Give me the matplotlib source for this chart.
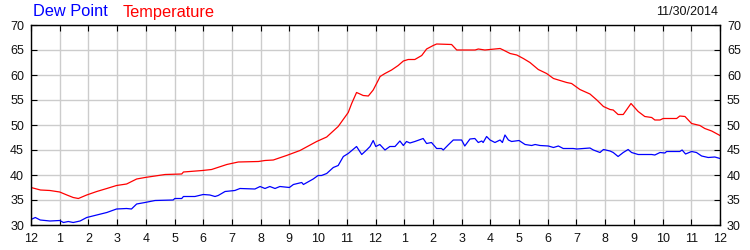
import matplotlib
matplotlib.use("Agg")
import matplotlib.pyplot as plt

# Hours since midnight and readings
temp_hours = [0.0, 0.33, 0.66, 1.0, 1.25, 1.47, 1.65, 1.94, 2.29, 2.64, 2.98, 3.33, 3.68, 3.97,
              4.32, 4.67, 5.25, 5.31, 5.97, 6.29, 6.82, 7.22, 7.92, 8.15,
              8.44, 8.90, 9.37, 9.95, 10.30, 10.70, 11.05, 11.17, 11.34, 11.42, 11.57, 11.75,
              11.92, 12.10, 12.16, 12.33, 12.56, 12.79, 12.97, 13.14, 13.37, 13.61, 13.78,
              14.01, 14.13, 14.65, 14.83, 15.47, 15.58, 15.81, 16.16, 16.34, 16.45, 16.69,
              16.92, 17.15, 17.38, 17.67, 17.96, 18.20, 18.66, 18.83, 19.12, 19.47, 19.71,
              19.94, 20.17, 20.28, 20.45, 20.63, 20.90, 21.15, 21.38, 21.62, 21.73, 21.91,
              22.02, 22.49, 22.60, 22.78, 23.01, 23.30, 23.47, 23.71, 24.0]
temperature = [37.5, 37.0, 36.9, 36.6, 36.0, 35.5, 35.3, 36.0, 36.7, 37.3, 37.9, 38.2, 39.2, 39.5,
               39.8, 40.1, 40.2, 40.6, 40.9, 41.1, 42.1, 42.6, 42.7, 42.9,
               43.0, 43.9, 44.9, 46.7, 47.6, 49.7, 52.5, 54.3, 56.5, 56.3, 55.9, 55.8,
               57.0, 59.0, 59.7, 60.3, 61.0, 61.9, 62.8, 63.1, 63.1, 63.9, 65.2,
               65.9, 66.2, 66.1, 65.0, 65.0, 65.2, 65.0, 65.2, 65.3, 65.0, 64.3,
               64.0, 63.3, 62.5, 61.1, 60.3, 59.3, 58.5, 58.3, 57.1, 56.2, 55.0,
               53.7, 53.1, 53.0, 52.1, 52.1, 54.3, 52.7, 51.7, 51.5, 51.0, 51.0,
               51.3, 51.3, 51.8, 51.7, 50.3, 49.9, 49.3, 48.8, 47.9]

dew_hours = [0.0, 0.15, 0.32, 0.66, 1.0, 1.13, 1.30, 1.47, 1.71, 1.94, 2.29, 2.64, 2.98, 3.33,
             3.50, 3.68, 3.97, 4.32, 4.95, 5.01, 5.25, 5.31, 5.71, 6.00, 6.23, 6.41, 6.52,
             6.76, 7.10, 7.28, 7.80, 7.98, 8.15, 8.32, 8.50, 8.67, 9.00, 9.14, 9.43, 9.49,
             9.83, 10.00, 10.12, 10.30, 10.53, 10.70, 10.88, 11.05, 11.34, 11.52, 11.69,
             11.81, 11.92, 12.01, 12.15, 12.33, 12.50, 12.68, 12.85, 12.97, 13.08, 13.20,
             13.37, 13.66, 13.78, 13.95, 14.13, 14.30, 14.36, 14.53, 14.71, 15.00, 15.11,
             15.29, 15.46, 15.58, 15.70, 15.75, 15.87, 15.99, 16.16, 16.34, 16.42, 16.51,
             16.63, 16.74, 17.00, 17.21, 17.44, 17.56, 17.73, 18.02, 18.20, 18.37, 18.54,
             18.89, 19.01, 19.47, 19.59, 19.82, 19.94, 20.17, 20.28, 20.45, 20.63, 20.80,
             20.92, 21.15, 21.62, 21.73, 21.91, 22.08, 22.14, 22.60, 22.68, 22.80, 23.01,
             23.18, 23.36, 23.59, 23.82, 24.0]
dew_point = [31.1, 31.5, 31.0, 30.8, 30.9, 30.5, 30.7, 30.5, 30.8, 31.5, 32.0, 32.5, 33.2, 33.3,
             33.2, 34.2, 34.5, 34.9, 35.0, 35.3, 35.3, 35.7, 35.7, 36.1, 36.0, 35.7, 35.9,
             36.7, 36.9, 37.3, 37.2, 37.7, 37.3, 37.7, 37.3, 37.7, 37.5, 38.1, 38.5, 38.1,
             39.2, 39.9, 39.9, 40.3, 41.5, 41.9, 43.7, 44.3, 45.7, 44.1, 45.0,
             45.7, 46.9, 45.7, 46.1, 45.0, 45.7, 45.7, 46.8, 45.9, 46.7, 46.4,
             46.7, 47.3, 46.3, 46.5, 45.3, 45.3, 45.0, 46.0, 47.0, 47.0, 45.8,
             47.2, 47.3, 46.5, 46.8, 46.5, 47.7, 47.0, 46.5, 47.0, 46.5, 48.0,
             47.0, 46.7, 46.9, 46.1, 45.9, 46.1, 45.9, 45.8, 45.5, 45.8, 45.3,
             45.3, 45.2, 45.4, 45.0, 44.5, 45.1, 44.8, 44.5, 43.7, 44.5, 45.1,
             44.5, 44.1, 44.1, 44.0, 44.5, 44.4, 44.7, 44.7, 45.0, 44.2, 44.7,
             44.5, 43.8, 43.5, 43.6, 43.3]

x_ticks = list(range(0, 25))
x_labels = ["12", "1", "2", "3", "4", "5", "6", "7", "8", "9", "10", "11",
            "12", "1", "2", "3", "4", "5", "6", "7", "8", "9", "10", "11", "12"]
y_ticks = [30, 35, 40, 45, 50, 55, 60, 65, 70]
date_label = "11/30/2014"

plt.rcParams['font.family'] = ['Liberation Sans', 'DejaVu Sans']

fig = plt.figure(figsize=(7.5, 2.5), dpi=100)
ax = fig.add_axes([31/750, 1 - 225/250, (720 - 31)/750, 200/250])

ax.plot(dew_hours, dew_point, color='#0000ff', lw=0.9)
ax.plot(temp_hours, temperature, color='#ff0000', lw=0.9)

ax.set_xlim(0, 24)
ax.set_ylim(30, 70)
ax.set_xticks(x_ticks)
ax.set_xticklabels(x_labels)
ax.set_yticks(y_ticks)
ax.grid(True, color='#cccccc', lw=1)
ax.set_axisbelow(True)

for s in ax.spines.values():
    s.set_color('black')
    s.set_linewidth(1)

ax.tick_params(axis='x', which='both', direction='in', length=4, top=True, bottom=True,
               labelsize=9, pad=6, colors='black', labelcolor='#111111')
ax.tick_params(axis='y', which='both', direction='in', length=4, left=True, right=True,
               labelleft=True, labelright=True, labelsize=9, pad=5, labelcolor='#111111')

fig.text(33/750, 1 - 12/250, "Dew Point", color='#0000ff', fontsize=11.8, va='center', ha='left')
fig.text(123/750, 1 - 12/250, "Temperature", color='#ff0000', fontsize=11.8, va='center', ha='left')
fig.text(718/750, 1 - 12/250, date_label, color='#111111', fontsize=9, va='center', ha='right')

fig.savefig("out.png", dpi=100)
